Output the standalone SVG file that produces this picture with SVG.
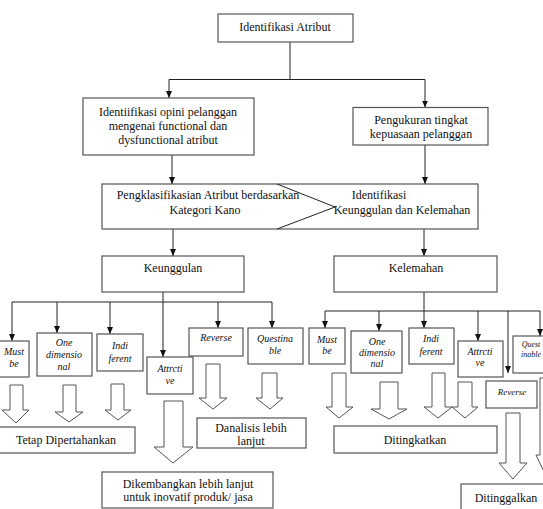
<svg xmlns="http://www.w3.org/2000/svg" width="543" height="509" viewBox="0 0 543 509" font-family="'Liberation Serif', Tinos, 'Times New Roman', 'DejaVu Serif', serif">
<style>
.box{fill:#fff;stroke:#555;stroke-width:1.2}
.blk{fill:#fff;stroke:#555;stroke-width:1}
.ln{stroke:#222;stroke-width:1;fill:none}
text{font-family:'Liberation Serif', Tinos, 'Times New Roman', 'DejaVu Serif', serif;font-size:12px;fill:#111;text-anchor:middle}
.i{font-style:italic;font-size:10px}
.s{font-size:9px}
.xs{font-size:8px}
</style>
<defs>
<marker id="ah" markerWidth="8" markerHeight="8" refX="7" refY="4" orient="auto" markerUnits="userSpaceOnUse"><path d="M0,1 L7,4 L0,7 z" fill="#111"/></marker>
</defs>
<rect width="543" height="509" fill="#fff"/>
<g id="connectors">
<path class="ln" d="M290,42 V79.5 M169,79.5 H425"/>
<path class="ln" d="M169,79.5 V98" marker-end="url(#ah)"/>
<path class="ln" d="M425,79.5 V107.5" marker-end="url(#ah)"/>
<path class="ln" d="M172,155 V184" marker-end="url(#ah)"/>
<path class="ln" d="M425,145 V184" marker-end="url(#ah)"/>
<path class="ln" d="M173,229 V256" marker-end="url(#ah)"/>
<path class="ln" d="M424,229 V256" marker-end="url(#ah)"/>
<path class="ln" d="M12,302 H272"/>
<path class="ln" d="M12,302 V341" marker-end="url(#ah)"/>
<path class="ln" d="M57,302 V333" marker-end="url(#ah)"/>
<path class="ln" d="M110,302 V334" marker-end="url(#ah)"/>
<path class="ln" d="M163,292 V357" marker-end="url(#ah)"/>
<path class="ln" d="M218,302 V328" marker-end="url(#ah)"/>
<path class="ln" d="M272,302 V328" marker-end="url(#ah)"/>
<path class="ln" d="M424,292 V311 M325,311 H540"/>
<path class="ln" d="M325,311 V328" marker-end="url(#ah)"/>
<path class="ln" d="M379,311 V331" marker-end="url(#ah)"/>
<path class="ln" d="M424,311 V328" marker-end="url(#ah)"/>
<path class="ln" d="M478,311 V341" marker-end="url(#ah)"/>
<path class="ln" d="M508,311 V373" marker-end="url(#ah)"/>
<path class="ln" d="M540,311 V336" marker-end="url(#ah)"/>
</g>
<g id="n-identifikasi-atribut">
<rect class="box" x="218" y="14" width="135" height="28"/>
<text x="285" y="31">Identifikasi Atribut</text>
</g>
<g id="n-opini">
<rect class="box" x="83" y="98" width="171" height="57"/>
<text x="168" y="116">Identiifikasi opini pelanggan</text>
<text x="168" y="130">mengenai functional dan</text>
<text x="168" y="144">dysfunctional atribut</text>
</g>
<g id="n-pengukuran">
<rect class="box" x="353" y="107.5" width="135" height="37.5"/>
<text x="421" y="124">Pengukuran tingkat</text>
<text x="421" y="138">kepuasaan pelanggan</text>
</g>
<g id="n-klasifikasi">
<rect class="box" x="102" y="184" width="376" height="45"/>
<path class="ln" d="M277,184 L335,207 L277,229" stroke="#444"/>
<text x="208" y="199">Pengklasifikasian Atribut berdasarkan</text>
<text x="205" y="214">Kategori Kano</text>
<text x="379" y="199">Identifikasi</text>
<text x="402" y="214">Keunggulan dan Kelemahan</text>
</g>
<g id="n-keunggulan">
<rect class="box" x="102" y="256" width="142" height="36"/>
<text x="173" y="272">Keunggulan</text>
</g>
<g id="n-kelemahan">
<rect class="box" x="334" y="256" width="163" height="36"/>
<text x="416" y="272">Kelemahan</text>
</g>
<g id="n-must-l">
<rect class="box" x="-1" y="341" width="30" height="36"/>
<text class="i" x="14" y="355">Must</text>
<text class="i" x="14" y="367">be</text>
</g>
<g id="n-one-l">
<rect class="box" x="37" y="333" width="55" height="43"/>
<text class="i" x="64" y="346">One</text>
<text class="i" x="64" y="358">dimensio</text>
<text class="i" x="64" y="370">nal</text>
</g>
<g id="n-indi-l">
<rect class="box" x="97" y="334" width="46" height="37"/>
<text class="i" x="120" y="349">Indi</text>
<text class="i" x="120" y="362">ferent</text>
</g>
<g id="n-attr-l">
<rect class="box" x="147" y="357" width="46" height="37"/>
<text class="i" x="170" y="372">Attrcti</text>
<text class="i" x="170" y="384">ve</text>
</g>
<g id="n-reverse-l">
<rect class="box" x="189" y="328" width="54" height="28"/>
<text class="i" x="216" y="341">Reverse</text>
</g>
<g id="n-quest-l">
<rect class="box" x="248" y="328" width="55" height="36"/>
<text class="i" x="275" y="342">Questina</text>
<text class="i" x="275" y="354">ble</text>
</g>
<g id="n-must-r">
<rect class="box" x="309" y="328" width="36" height="36"/>
<text class="i" x="327" y="343">Must</text>
<text class="i" x="327" y="354">be</text>
</g>
<g id="n-one-r">
<rect class="box" x="351" y="331" width="51" height="42"/>
<text class="i" x="377" y="345">One</text>
<text class="i" x="377" y="356">dimensio</text>
<text class="i" x="377" y="367">nal</text>
</g>
<g id="n-indi-r">
<rect class="box" x="409" y="328" width="45" height="36"/>
<text class="i" x="431" y="342">Indi</text>
<text class="i" x="431" y="355">ferent</text>
</g>
<g id="n-attr-r">
<rect class="box" x="458" y="341" width="45" height="36"/>
<text class="i" x="480" y="355">Attrcti</text>
<text class="i" x="480" y="366">ve</text>
</g>
<g id="n-quest-r">
<rect class="box" x="513" y="336" width="40" height="37"/>
<text class="i xs" x="531" y="347">Quest</text>
<text class="i xs" x="531" y="357">inable</text>
</g>
<g id="n-reverse-r">
<rect class="box" x="486" y="381" width="51" height="27"/>
<text class="i s" x="512" y="395">Reverse</text>
</g>
<g id="block-arrows">
<polygon class="blk" points="10,385 23,385 23,410 29,410 16,423 2,410 10,410"/>
<polygon class="blk" points="63,385 76,385 76,412 83,412 69,422 55,412 63,412"/>
<polygon class="blk" points="111,384 124,384 124,410 131,410 118,420 105,410 111,410"/>
<polygon class="blk" points="164,401 183,401 183,447 193,447 173,463 154,447 164,447"/>
<polygon class="blk" points="206,364 220,364 220,398 227,398 213,409 199,398 206,398"/>
<polygon class="blk" points="262,373 277,373 277,398 283,398 270,409 256,398 262,398"/>
<polygon class="blk" points="332,373 346,373 346,407 353,407 339,418 326,407 332,407"/>
<polygon class="blk" points="380,382 398,382 398,409 407,409 389,419 371,409 380,409"/>
<polygon class="blk" points="432,373 445,373 445,407 452,407 438,418 424,407 432,407"/>
<polygon class="blk" points="458,382 472,382 472,407 478,407 465,418 452,407 458,407"/>
<polygon class="blk" points="506,413 520,413 520,463 527,463 513,479 499,463 506,463"/>
<polygon class="blk" points="540,378 552,378 552,455 558,455 547,478 536,455 540,455"/>
</g>
<g id="n-tetap">
<rect class="box" x="-1" y="427" width="136" height="26"/>
<text x="66" y="444">Tetap Dipertahankan</text>
</g>
<g id="n-danalisis">
<rect class="box" x="197" y="418" width="109" height="30"/>
<text x="251" y="432">Danalisis lebih</text>
<text x="251" y="445">lanjut</text>
</g>
<g id="n-dikembangkan">
<rect class="box" x="102" y="472" width="171" height="36"/>
<text x="188" y="488">Dikembangkan lebih lanjut</text>
<text x="188" y="501">untuk inovatif produk/ jasa</text>
</g>
<g id="n-ditingkatkan">
<rect class="box" x="334" y="426" width="163" height="27"/>
<text x="415" y="444">Ditingkatkan</text>
</g>
<g id="n-ditinggalkan">
<rect class="box" x="461" y="484" width="90" height="30"/>
<text x="506" y="502">Ditinggalkan</text>
</g>
</svg>
